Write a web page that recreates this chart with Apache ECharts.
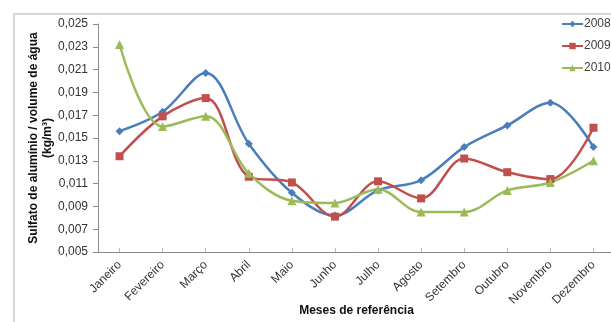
<!DOCTYPE html>
<html>
<head>
<meta charset="utf-8">
<script src="https://cdn.jsdelivr.net/npm/echarts@6/dist/echarts.min.js"></script>
<style>
  html, body { margin: 0; padding: 0; background: #fff; }
  #frame { position: absolute; left: 13px; top: 13px; width: 620px; height: 320px;
           border-left: 2px solid #d3d8dc; border-top: 2px solid #d3d8dc; }
  #chart { position: absolute; left: 0; top: 0; width: 611px; height: 322px; }
</style>
</head>
<body>
<div id="frame"></div>
<div id="chart"></div>
<script>
// Monthly aluminium sulfate dose per volume of treated water (kg/m³)
const months = ['Janeiro', 'Fevereiro', 'Março', 'Abril', 'Maio', 'Junho',
                'Julho', 'Agosto', 'Setembro', 'Outubro', 'Novembro', 'Dezembro'];
const y2008 = [0.0156, 0.0173, 0.0207, 0.0145, 0.0102, 0.0082, 0.0104, 0.0113, 0.0142, 0.0161, 0.0181, 0.0142];
const y2009 = [0.0134, 0.0169, 0.0185, 0.0116, 0.0111, 0.0081, 0.0112, 0.0097, 0.0132, 0.0120, 0.0114, 0.0159];
const y2010 = [0.0232, 0.0160, 0.0169, 0.0119, 0.0095, 0.0093, 0.0105, 0.0085, 0.0085, 0.0104, 0.0111, 0.0130];
const yTicks = [0.005, 0.007, 0.009, 0.011, 0.013, 0.015, 0.017, 0.019, 0.021, 0.023, 0.025];

const font = 'Liberation Sans, Arial, sans-serif';
const chart = echarts.init(document.getElementById('chart'));

function lineSeries(name, data, color, symbol, size) {
  return {
    name: name, type: 'line', data: data, smooth: 0.35,
    symbol: symbol, symbolSize: size,
    lineStyle: { color: color, width: 2.5 },
    itemStyle: { color: color },
    z: 3
  };
}

chart.setOption({
  animation: false,
  backgroundColor: 'transparent',
  textStyle: { fontFamily: font },
  grid: { left: 98, right: -4, top: 24, bottom: 70, outerBoundsMode: 'none' },
  legend: {
    orient: 'vertical', left: 561, top: 18, padding: 0,
    itemWidth: 21, itemHeight: 8, itemGap: 10,
    textStyle: { fontSize: 12, color: '#404040', fontFamily: font, padding: [0, 0, 0, -4] },
    data: ['2008', '2009', '2010']
  },
  xAxis: {
    type: 'category', data: months, boundaryGap: true,
    name: 'Meses de referência', nameLocation: 'middle', nameGap: 53, nameMoveOverlap: false,
    nameTextStyle: { fontSize: 12, fontWeight: 'bold', color: '#111', fontFamily: font },
    axisLine: { lineStyle: { color: '#8c8c8c', width: 1 } },
    axisTick: { show: true, inside: true, alignWithLabel: true, length: 4, lineStyle: { color: '#bbb' } },
    axisLabel: { rotate: 45, fontSize: 12, color: '#333', margin: 11, fontFamily: font, interval: 0 }
  },
  yAxis: {
    type: 'value', min: 0.005, max: 0.025,
    name: 'Sulfato de alumínio / volume de água\n(kg/m³)',
    nameLocation: 'middle', nameGap: 43, nameMoveOverlap: false,
    nameTextStyle: { fontSize: 12, fontWeight: 'bold', color: '#111', fontFamily: font, lineHeight: 14 },
    splitLine: { show: false },
    axisLine: { show: true, lineStyle: { color: '#8c8c8c', width: 1 } },
    axisTick: { show: true, length: 5, lineStyle: { color: '#8c8c8c' }, customValues: yTicks },
    axisLabel: {
      fontSize: 12, color: '#333', margin: 10, fontFamily: font,
      customValues: yTicks,
      formatter: v => v.toFixed(3).replace('.', ',')
    }
  },
  series: [
    lineSeries('2008', y2008, '#4a7ebb', 'diamond', 8),
    lineSeries('2009', y2009, '#c0504d', 'rect', 8),
    lineSeries('2010', y2010, '#9bbb59', 'triangle', 9)
  ]
});
</script>
</body>
</html>
